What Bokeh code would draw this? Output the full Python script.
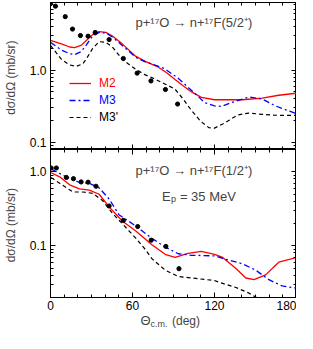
from bokeh.plotting import figure
from bokeh.models import (Range1d, LogAxis, LinearAxis, FixedTicker,
                          PrintfTickFormatter, CustomJSTickFormatter, Label, Legend, LegendItem)
from bokeh.layouts import column
from bokeh.embed import file_html
from bokeh.resources import INLINE

FONT = "Liberation Sans"

# ---------------- data: p+17O -> n+17F(5/2+) ----------------
exp_top_x = [0, 3.6, 10.8, 16.1, 21.9, 27.5, 32.7, 42.9, 53.3, 63.4, 73.5, 84.1, 93.0]
exp_top_y = [8.3, 7.67, 5.49, 3.70, 3.01, 2.95, 3.32, 2.65, 1.45, 0.91, 0.71, 0.54, 0.34]

m2_top_x = [0, 8, 14, 17.6, 22.4, 26, 30.8, 35.6, 40.5, 45.3, 52.5, 62.2, 69.4, 79,
            85, 91.1, 97, 103.2, 110.4, 120, 140.5, 154.9, 167, 180]
m2_top_y = [2.59, 2.31, 2.09, 2.05, 2.20, 2.55, 3.10, 3.42, 3.33, 2.96, 2.31, 1.56, 1.32, 1.10,
            0.92, 0.744, 0.61, 0.50, 0.42, 0.39, 0.39, 0.41, 0.45, 0.48]

m3_top_x = [0, 8, 14, 17.6, 22.4, 26, 30.8, 35.6, 40.5, 45.3, 52.5, 62.2, 69.4, 76, 83.4,
            93.1, 105.5, 112.8, 120, 125, 135.7, 145.3, 154.9, 164.6, 180]
m3_top_y = [2.42, 1.90, 1.69, 1.64, 1.80, 2.20, 2.96, 3.32, 3.26, 2.87, 2.20, 1.51, 1.30, 1.18, 1.05,
            0.78, 0.48, 0.356, 0.32, 0.316, 0.374, 0.425, 0.40, 0.32, 0.25]

m3p_top_x = [0, 8, 14, 18.8, 23.6, 26, 30.8, 35.6, 40.5, 45.3, 52.5, 62.2, 69.4, 76, 84,
             91, 97, 103, 110, 116, 120, 126, 131, 137, 145, 155, 165, 180]
m3p_top_y = [2.20, 1.41, 1.18, 1.13, 1.22, 1.41, 1.99, 2.48, 2.42, 2.09, 1.41, 1.03, 0.86, 0.76, 0.64,
             0.55, 0.40, 0.28, 0.195, 0.160, 0.158, 0.18, 0.205, 0.24, 0.255, 0.245, 0.238, 0.237]

# ---------------- data: p+17O -> n+17F(1/2+) ----------------
exp_bot_x = [0.5, 4.3, 11.6, 16.8, 22.4, 27.5, 33.3, 42.9, 53.3, 63.8, 73.7, 84.4, 94.0]
exp_bot_y = [1.125, 1.125, 0.838, 0.806, 0.729, 0.723, 0.637, 0.345, 0.22, 0.182, 0.119, 0.098, 0.049]

m2_bot_x = [0.5, 6.7, 14, 21.2, 28.4, 35.6, 42.9, 52.5, 62.2, 74.2, 83.9, 91.1, 100.7, 110.4,
            120, 126, 135.7, 142.9, 148.9, 157.4, 167, 180]
m2_bot_y = [0.971, 0.855, 0.667, 0.588, 0.566, 0.497, 0.336, 0.216, 0.160, 0.103, 0.0767, 0.0695,
            0.0789, 0.0838, 0.0767, 0.0695, 0.0492, 0.0367, 0.0348, 0.0404, 0.060, 0.0695]

m3_bot_x = [0.5, 6, 11.6, 21.2, 28.4, 35.6, 42.9, 50.1, 62.2, 74.2, 83.9, 93.5, 103.2, 120,
            126, 140.5, 150.1, 159.8, 169.4, 180]
m3_bot_y = [1.09, 0.96, 0.855, 0.716, 0.70, 0.605, 0.429, 0.263, 0.186, 0.126, 0.096, 0.078, 0.0744,
            0.073, 0.0676, 0.057, 0.0469, 0.0348, 0.0287, 0.0267]

m3p_bot_x = [0.5, 6.7, 16.4, 23.6, 30.9, 38.1, 45.3, 52.5, 62.2, 69.4, 74.2, 83.9, 93.5, 107.9,
             120, 126, 135.7, 145.3, 150.1, 156]
m3p_bot_y = [0.838, 0.70, 0.533, 0.533, 0.512, 0.409, 0.275, 0.199, 0.128, 0.089, 0.067, 0.0469,
             0.0385, 0.0359, 0.0339, 0.031, 0.0273, 0.0229, 0.0203, 0.017]

x_major = [0, 60, 120, 180]
x_minor = list(range(0, 181, 10))
y_major = [0.01, 0.1, 1, 10]
y_minor = [m * 10.0 ** k for k in (-2, -1, 0) for m in range(2, 10)]

RED = "#ff0000"
BLUE = "#0000ff"
FW = 246      # frame width
BL = 50       # left border


def style_axis(ax, labels=True):
    ax.axis_line_color = "black"
    ax.major_tick_in = 5
    ax.major_tick_out = 0
    ax.minor_tick_in = 3
    ax.minor_tick_out = 0
    ax.major_tick_line_color = "black"
    ax.minor_tick_line_color = "black"
    ax.major_label_text_font = FONT
    ax.major_label_text_color = "black"
    if labels:
        ax.major_label_text_font_size = "12px"
        ax.major_label_standoff = 3
    else:
        ax.formatter = CustomJSTickFormatter(code="return ''")
        ax.major_label_text_font_size = "1px"
        ax.major_label_standoff = 0


def make_panel(y_lo, y_hi, frame_h, bottom_labels, top_border):
    p = figure(frame_width=FW, frame_height=frame_h,
               x_range=Range1d(0, 180), y_range=Range1d(y_lo, y_hi),
               y_axis_type="log", x_axis_location=None, y_axis_location=None,
               output_backend="svg", toolbar_location=None,
               min_border_left=BL, min_border_right=0, min_border_top=top_border,
               min_border_bottom=0,
               background_fill_color="white", border_fill_color="white")
    p.outline_line_color = "black"
    p.outline_line_width = 1
    p.grid.visible = False

    left = LogAxis(ticker=FixedTicker(ticks=y_major, minor_ticks=y_minor),
                   formatter=PrintfTickFormatter(format="%.1f"),
                   axis_label="dσ/dΩ  (mb/sr)")
    style_axis(left)
    left.major_label_standoff = 4
    left.axis_label_text_font = FONT
    left.axis_label_text_font_size = "12px"
    left.axis_label_text_font_style = "normal"
    left.axis_label_standoff = 9
    p.add_layout(left, "left")

    right = LogAxis(ticker=FixedTicker(ticks=y_major, minor_ticks=y_minor))
    style_axis(right, labels=False)
    p.add_layout(right, "right")

    top = LinearAxis(ticker=FixedTicker(ticks=x_major, minor_ticks=x_minor))
    style_axis(top, labels=False)
    p.add_layout(top, "above")

    bot = LinearAxis(ticker=FixedTicker(ticks=x_major, minor_ticks=x_minor))
    style_axis(bot, labels=bottom_labels)
    p.add_layout(bot, "below")
    return p


# ---------------- top panel ----------------
p1 = make_panel(0.08, 8.62, 147, False, 2)
r_m2 = p1.line(m2_top_x, m2_top_y, line_color=RED, line_width=1.3)
r_m3 = p1.line(m3_top_x, m3_top_y, line_color=BLUE, line_width=1.3, line_dash="6 3 2 3")
r_m3p = p1.line(m3p_top_x, m3p_top_y, line_color="black", line_width=1.2, line_dash="4 3")
p1.scatter(exp_top_x, exp_top_y, size=4.2, color="black")

p1.add_layout(Label(x=62.2, y=4.54, text="p+¹⁷O → n+¹⁷F(5/2⁺)", text_font=FONT,
                    text_font_size="13px", text_baseline="alphabetic", text_align="left"))

for name, rend, col, ly in (("M2", r_m2, RED, 59), ("M3", r_m3, BLUE, 42), ("M3'", r_m3p, "black", 25)):
    leg = Legend(items=[LegendItem(label=name, renderers=[rend])], location=(19, ly),
                 border_line_color=None, background_fill_alpha=0, padding=0, margin=0,
                 spacing=0, glyph_width=22, glyph_height=14, label_height=14,
                 label_standoff=8, label_text_font=FONT, label_text_font_size="12px",
                 label_text_color=col)
    p1.add_layout(leg, "center")

# ---------------- bottom panel ----------------
p2 = make_panel(0.02, 2.0, 148, True, 0)
p2.line(m2_bot_x, m2_bot_y, line_color=RED, line_width=1.3)
p2.line(m3_bot_x, m3_bot_y, line_color=BLUE, line_width=1.3, line_dash="6 3 2 3")
p2.line(m3p_bot_x, m3p_bot_y, line_color="black", line_width=1.2, line_dash="4 3")
p2.scatter(exp_bot_x, exp_bot_y, size=4.2, color="black")

p2.add_layout(Label(x=62.2, y=1.04, text="p+¹⁷O → n+¹⁷F(1/2⁺)", text_font=FONT,
                    text_font_size="13px", text_baseline="alphabetic", text_align="left"))
p2.add_layout(Label(x=81.5, y=0.464, text="E", text_font=FONT, text_font_size="13px",
                    text_baseline="alphabetic", text_align="left"))
p2.add_layout(Label(x=81.5, y=0.464, x_offset=9, y_offset=-3, text="p", text_font=FONT,
                    text_font_size="9px", text_baseline="alphabetic", text_align="left"))
p2.add_layout(Label(x=81.5, y=0.464, x_offset=18, text="= 35 MeV", text_font=FONT,
                    text_font_size="13px", text_baseline="alphabetic", text_align="left"))

# ---------------- x-axis title strip: Θc.m.  (deg) ----------------
p3 = figure(frame_width=FW, frame_height=18, x_range=p2.x_range, y_range=Range1d(0, 1),
            x_axis_location=None, y_axis_location=None, output_backend="svg",
            toolbar_location=None, min_border_left=BL, min_border_right=0,
            min_border_top=0, min_border_bottom=0, outline_line_color=None,
            background_fill_color="white", border_fill_color="white")
p3.grid.visible = False
p3.add_layout(Label(x=65.8, y=0.55, text="Θ", text_font=FONT, text_font_size="13px",
                    text_baseline="middle", text_align="left"))
p3.add_layout(Label(x=65.8, y=0.55, x_offset=10, y_offset=-3, text="c.m.", text_font=FONT,
                    text_font_size="9px", text_baseline="middle", text_align="left"))
p3.add_layout(Label(x=88.9, y=0.55, text="(deg)", text_font=FONT, text_font_size="12px",
                    text_baseline="middle", text_align="left"))

layout = column(p1, p2, p3, spacing=0)

open("out.html", "w").write(file_html(layout, INLINE))
